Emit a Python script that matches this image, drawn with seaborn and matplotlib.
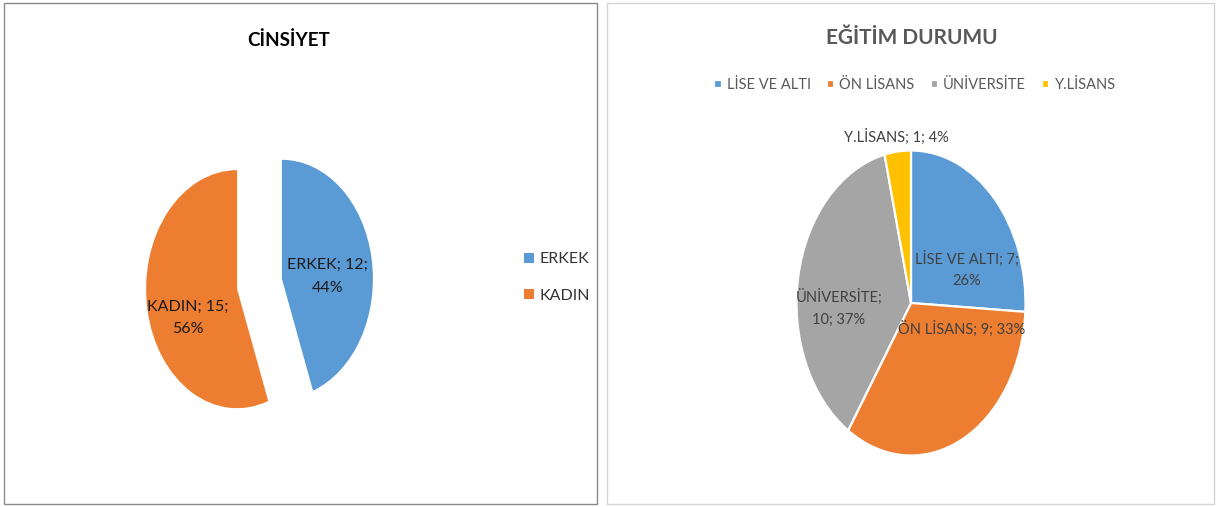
import numpy as np
import matplotlib.pyplot as plt
import seaborn as sns
from matplotlib.patches import Rectangle

sns.set_theme(style="white")
plt.rcParams['font.family'] = ['Lato', 'DejaVu Sans']

# Data
gender_labels = ['ERKEK', 'KADIN']
gender_counts = [12, 15]
gender_pcts = [44, 56]

edu_labels = ['LİSE VE ALTI', 'ÖN LİSANS', 'ÜNİVERSİTE', 'Y.LİSANS']
edu_counts = [7, 9, 10, 1]
edu_pcts = [26, 33, 37, 4]

colors = ['#5B9BD5', '#ED7D31', '#A5A5A5', '#FFC000']

W, H = 1217, 507
fig = plt.figure(figsize=(W / 100, H / 100), dpi=100)


def ax_box(cx, cy, rx, ry, xr, yr):
    # axes placed so that one data unit is rx px wide and ry px tall
    left = cx - xr * rx
    top = cy - yr * ry
    return [left / W, 1 - (top + 2 * yr * ry) / H, 2 * xr * rx / W, 2 * yr * ry / H]


# panel frames
fig.patches.append(Rectangle((4 / W, 3 / H), 593 / W, 501 / H, transform=fig.transFigure,
                             fill=False, edgecolor='#8a8a8a', linewidth=1))
fig.patches.append(Rectangle((607 / W, 3 / H), 607 / W, 501 / H, transform=fig.transFigure,
                             fill=False, edgecolor='#d4d4d4', linewidth=1))

# ---- left: CİNSİYET ----
ax1 = fig.add_axes(ax_box(259.5, 284, 91, 119, 2.0, 1.3))
wedges1, _ = ax1.pie(gender_counts, colors=colors[:2], startangle=90, counterclock=False,
                     explode=[0.25, 0.25], wedgeprops=dict(linewidth=0))
ax1.set_aspect('auto')
ax1.set_xlim(-2.0, 2.0)
ax1.set_ylim(-1.3, 1.3)
ax1.axis('off')

offsets1 = [(0.505, 0.02), (-0.54, -0.24)]
for w, lab, n, p, (dx, dy) in zip(wedges1, gender_labels, gender_counts, gender_pcts, offsets1):
    cx, cy = w.center
    ax1.text(cx + dx, cy + dy, f'{lab}; {n};\n{p}%', ha='center', va='center',
             fontsize=11.5, color='#1a1a1a', linespacing=1.75)

fig.text(289 / W, 1 - 40 / H, 'CİNSİYET', ha='center', va='center',
         fontsize=13.5, fontweight='bold', color='#000000')

fig.legend(wedges1, gender_labels, loc='center left', bbox_to_anchor=(524 / W, 1 - 277.5 / H),
           frameon=False, fontsize=11.5, handlelength=0.6, handleheight=0.6,
           handletextpad=0.35, labelspacing=1.4, borderpad=0, borderaxespad=0,
           labelcolor='#333333')

# ---- right: EĞİTİM DURUMU ----
ax2 = fig.add_axes(ax_box(911, 303, 114.5, 152.5, 2.5, 1.3))
wedges2, _ = ax2.pie(edu_counts, colors=colors, startangle=90, counterclock=False,
                     wedgeprops=dict(edgecolor='white', linewidth=1.6))
ax2.set_aspect('auto')
ax2.set_xlim(-2.5, 2.5)
ax2.set_ylim(-1.3, 1.3)
ax2.axis('off')

offsets2 = [(0.49, 0.22, 'two'), (0.445, -0.17, 'one'), (-0.63, -0.03, 'split'), (-0.13, 1.09, 'one')]
for lab, n, p, (dx, dy, mode) in zip(edu_labels, edu_counts, edu_pcts, offsets2):
    if mode == 'two':
        txt = f'{lab}; {n};\n{p}%'
    elif mode == 'split':
        txt = f'{lab};\n{n}; {p}%'
    else:
        txt = f'{lab}; {n}; {p}%'
    ax2.text(dx, dy, txt, ha='center', va='center', fontsize=10.5, color='#404040',
             linespacing=1.7)

fig.text(912 / W, 1 - 38 / H, 'EĞİTİM DURUMU', ha='center', va='center',
         fontsize=15, fontweight='bold', color='#595959')

fig.legend(wedges2, edu_labels, loc='center', ncol=4, bbox_to_anchor=(915 / W, 1 - 85 / H),
           frameon=False, fontsize=10.5, handlelength=0.5, handleheight=0.5,
           handletextpad=0.35, columnspacing=1.1, borderpad=0, borderaxespad=0,
           labelcolor='#595959')

fig.savefig('out.png', dpi=100, facecolor='white')
